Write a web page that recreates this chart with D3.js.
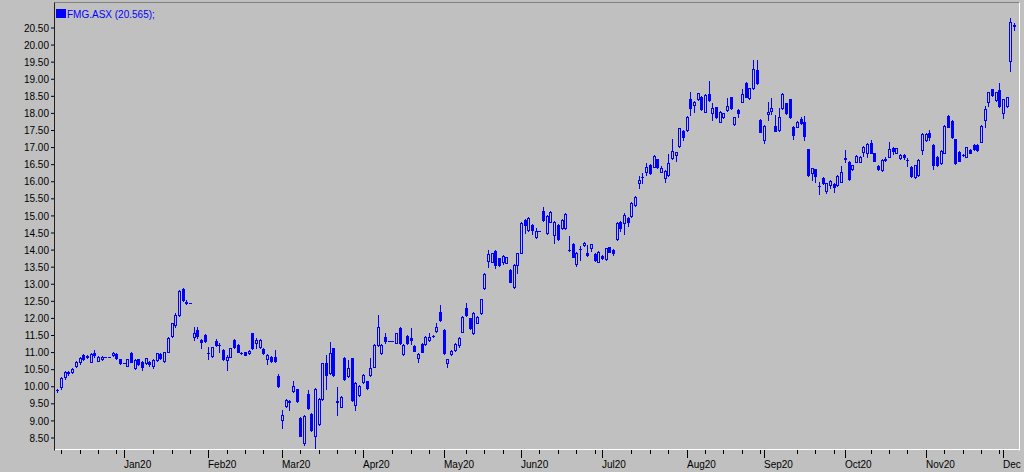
<!DOCTYPE html>
<html><head><meta charset="utf-8">
<script src="https://cdn.jsdelivr.net/npm/d3@7"></script>
<style>
html,body{margin:0;padding:0;background:#c0c0c0;overflow:hidden}
svg{display:block}
text{font-family:"Liberation Sans",Arial,sans-serif;font-size:10px}
</style></head><body>
<svg id="c" width="1024" height="472"></svg>
<script>
// ---- data ----
const dates = [
"2019-12-06","2019-12-09","2019-12-10","2019-12-11","2019-12-12","2019-12-13","2019-12-16","2019-12-17","2019-12-18","2019-12-19","2019-12-20","2019-12-23","2019-12-24","2019-12-25","2019-12-26","2019-12-27","2019-12-30","2019-12-31",
"2020-01-01","2020-01-02","2020-01-03","2020-01-06","2020-01-07","2020-01-08","2020-01-09","2020-01-10","2020-01-13","2020-01-14","2020-01-15","2020-01-16","2020-01-17","2020-01-20","2020-01-21","2020-01-22","2020-01-23","2020-01-24","2020-01-27","2020-01-28","2020-01-29","2020-01-30","2020-01-31",
"2020-02-03","2020-02-04","2020-02-05","2020-02-06","2020-02-07","2020-02-10","2020-02-11","2020-02-12","2020-02-13","2020-02-14","2020-02-17","2020-02-18","2020-02-19","2020-02-20","2020-02-21","2020-02-24","2020-02-25","2020-02-26","2020-02-27","2020-02-28",
"2020-03-02","2020-03-03","2020-03-04","2020-03-05","2020-03-06","2020-03-09","2020-03-10","2020-03-11","2020-03-12","2020-03-13","2020-03-16","2020-03-17","2020-03-18","2020-03-19","2020-03-20","2020-03-23","2020-03-24","2020-03-25","2020-03-26","2020-03-27","2020-03-30","2020-03-31",
"2020-04-01","2020-04-02","2020-04-03","2020-04-06","2020-04-07","2020-04-08","2020-04-09","2020-04-10","2020-04-13","2020-04-14","2020-04-15","2020-04-16","2020-04-17","2020-04-20","2020-04-21","2020-04-22","2020-04-23","2020-04-24","2020-04-27","2020-04-28","2020-04-29","2020-04-30",
"2020-05-01","2020-05-04","2020-05-05","2020-05-06","2020-05-07","2020-05-08","2020-05-11","2020-05-12","2020-05-13","2020-05-14","2020-05-15","2020-05-18","2020-05-19","2020-05-20","2020-05-21","2020-05-22","2020-05-25","2020-05-26","2020-05-27","2020-05-28","2020-05-29",
"2020-06-01","2020-06-02","2020-06-03","2020-06-04","2020-06-05","2020-06-08","2020-06-09","2020-06-10","2020-06-11","2020-06-12","2020-06-15","2020-06-16","2020-06-17","2020-06-18","2020-06-19","2020-06-22","2020-06-23","2020-06-24","2020-06-25","2020-06-26","2020-06-29","2020-06-30",
"2020-07-01","2020-07-02","2020-07-03","2020-07-06","2020-07-07","2020-07-08","2020-07-09","2020-07-10","2020-07-13","2020-07-14","2020-07-15","2020-07-16","2020-07-17","2020-07-20","2020-07-21","2020-07-22","2020-07-23","2020-07-24","2020-07-27","2020-07-28","2020-07-29","2020-07-30","2020-07-31",
"2020-08-03","2020-08-04","2020-08-05","2020-08-06","2020-08-07","2020-08-10","2020-08-11","2020-08-12","2020-08-13","2020-08-14","2020-08-17","2020-08-18","2020-08-19","2020-08-20","2020-08-21","2020-08-24","2020-08-25","2020-08-26","2020-08-27","2020-08-28","2020-08-31",
"2020-09-01","2020-09-02","2020-09-03","2020-09-04","2020-09-07","2020-09-08","2020-09-09","2020-09-10","2020-09-11","2020-09-14","2020-09-15","2020-09-16","2020-09-17","2020-09-18","2020-09-21","2020-09-22","2020-09-23","2020-09-24","2020-09-25","2020-09-28","2020-09-29","2020-09-30",
"2020-10-01","2020-10-02","2020-10-05","2020-10-06","2020-10-07","2020-10-08","2020-10-09","2020-10-12","2020-10-13","2020-10-14","2020-10-15","2020-10-16","2020-10-19","2020-10-20","2020-10-21","2020-10-22","2020-10-23","2020-10-26","2020-10-27","2020-10-28","2020-10-29","2020-10-30",
"2020-11-02","2020-11-03","2020-11-04","2020-11-05","2020-11-06","2020-11-09","2020-11-10","2020-11-11","2020-11-12","2020-11-13","2020-11-16","2020-11-17","2020-11-18","2020-11-19","2020-11-20","2020-11-23","2020-11-24","2020-11-25","2020-11-26","2020-11-27","2020-11-30",
"2020-12-01","2020-12-02","2020-12-03","2020-12-04"
];
const open = [
9.88,9.97,10.26,10.39,10.43,10.60,10.70,10.90,10.85,10.72,10.98,10.75,10.80,10.87,10.87,10.91,10.94,10.79,
10.67,10.60,10.96,10.54,10.79,10.72,10.67,10.72,10.60,10.77,10.94,10.75,11.01,11.46,11.79,12.09,12.85,12.46,12.45,11.45,11.65,11.35,11.50,
10.97,10.89,11.33,11.22,11.06,10.77,10.87,11.35,11.21,10.97,10.99,10.96,11.55,11.26,11.14,11.10,10.80,10.86,10.87,10.30,
9.02,9.42,9.56,9.87,9.91,9.08,8.33,9.78,9.20,8.53,8.90,9.62,10.67,10.38,11.11,9.56,9.40,10.82,10.30,10.82,9.45,9.74,
10.11,10.14,10.33,10.57,11.21,10.96,11.45,11.31,11.31,11.28,11.70,10.94,11.47,11.40,11.18,10.82,11.24,11.24,11.35,11.47,11.63,12.16,
11.65,10.67,10.93,11.06,11.22,11.60,12.28,11.99,11.55,11.86,12.13,12.87,13.67,13.65,13.97,13.74,13.65,13.62,13.40,12.91,13.55,
13.91,14.87,14.57,14.72,14.36,14.55,15.14,14.48,14.82,14.43,14.72,14.62,14.62,14.00,14.16,13.58,14.01,14.13,13.91,14.06,13.87,13.65,
13.81,13.71,14.07,13.99,14.30,14.82,14.77,14.92,14.98,15.31,15.96,16.11,16.28,16.48,16.43,16.64,16.28,16.09,16.18,16.67,16.77,17.03,17.48,
17.50,18.40,18.23,18.40,18.48,18.04,18.54,18.01,18.16,17.74,17.87,18.09,18.46,17.68,18.09,18.33,18.88,18.43,18.72,19.26,17.79,
17.21,17.97,18.07,17.62,17.50,18.13,18.28,18.40,17.60,17.60,17.81,17.72,16.93,16.23,16.35,15.87,16.09,15.72,15.89,15.92,15.89,15.99,
16.66,16.57,16.35,16.57,16.57,16.87,16.84,17.13,16.82,16.45,16.33,16.63,16.72,16.96,16.84,16.67,16.77,16.62,16.43,16.12,16.18,16.91,
17.21,17.40,17.06,16.72,16.52,16.84,17.91,17.77,17.23,16.87,16.77,16.72,16.91,17.06,17.06,17.16,17.79,18.33,18.69,18.37,18.67,
17.99,18.20,19.52,20.55
];
const high = [
9.93,10.27,10.45,10.45,10.52,10.75,10.87,10.95,10.90,10.96,11.06,10.89,10.88,10.87,10.87,11.00,10.96,10.80,
10.67,10.80,10.99,10.79,10.81,10.74,10.84,10.75,10.79,10.98,10.97,11.01,11.43,11.86,12.15,12.82,12.88,12.52,12.45,11.74,11.72,11.38,11.52,
11.16,11.16,11.37,11.26,11.08,10.90,11.13,11.37,11.23,10.99,11.01,11.06,11.57,11.41,11.37,11.12,10.93,10.88,11.06,10.37,
9.31,9.62,9.60,10.16,9.93,9.10,9.16,9.90,9.22,9.94,9.66,10.69,10.92,11.30,11.13,9.99,9.72,10.85,10.77,10.84,10.11,10.03,
10.35,10.16,10.82,11.23,12.09,11.23,11.55,11.31,11.31,11.57,11.72,11.23,11.49,11.70,11.20,10.96,11.26,11.47,11.55,11.50,11.85,12.37,
11.67,10.81,11.06,11.26,11.44,12.06,12.45,12.01,12.17,12.06,12.56,13.30,14.00,13.91,13.99,13.76,13.83,13.79,13.42,13.57,13.91,
14.81,14.90,14.95,14.74,14.62,14.55,15.25,15.00,15.13,14.84,14.74,14.89,15.06,14.39,14.18,13.93,14.11,14.22,14.13,14.17,13.89,13.96,
13.83,14.06,14.09,14.01,14.81,14.84,15.06,14.94,15.39,15.57,16.14,16.23,16.52,16.50,16.76,16.66,16.45,16.32,16.79,17.24,16.87,17.57,17.50,
17.91,18.62,18.35,18.59,18.50,18.54,18.93,18.30,18.18,18.06,18.01,18.45,18.48,17.89,18.11,18.70,18.90,18.74,19.55,19.55,17.81,
17.64,18.33,18.43,17.95,18.13,18.57,18.30,18.42,17.62,17.76,17.88,17.90,16.95,16.40,16.37,15.98,16.11,15.96,16.04,15.94,16.17,16.45,
16.91,16.59,16.49,16.76,16.74,17.03,17.11,17.22,16.84,16.47,16.64,16.71,17.16,17.00,16.98,16.79,16.79,16.67,16.45,16.49,16.65,17.40,
17.40,17.50,17.08,16.74,16.91,17.64,17.93,17.79,17.25,16.89,16.80,17.01,16.93,17.08,17.08,17.64,18.20,18.62,18.71,18.62,18.87,
18.42,18.48,20.77,20.63
];
const low = [
9.84,9.93,10.20,10.33,10.40,10.57,10.66,10.76,10.83,10.70,10.87,10.73,10.77,10.87,10.87,10.89,10.80,10.65,
10.67,10.58,10.70,10.50,10.62,10.48,10.64,10.60,10.52,10.74,10.79,10.72,10.99,11.44,11.72,12.05,12.50,12.40,12.45,11.35,11.40,11.11,11.30,
10.79,10.85,11.17,10.99,10.77,10.48,10.85,11.12,10.99,10.93,10.90,10.94,11.09,11.13,11.11,10.94,10.65,10.72,10.72,9.97,
8.77,9.40,9.30,9.84,9.54,8.53,8.29,9.33,8.70,8.13,8.86,9.60,9.91,10.36,10.31,9.16,9.38,10.18,10.27,9.58,9.30,9.72,
10.09,9.92,10.31,10.55,11.17,10.94,11.28,11.31,11.31,11.26,11.24,10.92,11.24,11.25,11.02,10.72,10.99,11.22,11.33,11.45,11.60,11.91,
10.94,10.57,10.91,11.04,11.16,11.58,12.07,11.68,11.53,11.84,12.11,12.85,13.48,13.63,13.45,13.53,13.58,13.60,13.04,12.89,13.30,
13.89,14.50,14.55,14.45,14.34,14.55,14.85,14.46,14.80,14.20,14.28,14.60,14.60,13.95,13.77,13.52,13.70,14.11,13.82,13.96,13.68,13.63,
13.72,13.69,13.92,13.84,14.28,14.55,14.45,14.70,14.96,15.29,15.80,15.94,16.18,16.21,16.41,16.39,16.26,15.98,16.16,16.65,16.60,17.01,17.20,
17.48,17.94,18.03,18.38,18.09,18.02,18.36,17.79,17.85,17.72,17.85,18.07,18.11,17.66,17.88,18.31,18.46,18.41,18.70,18.85,17.43,
17.12,17.79,17.97,17.46,17.48,18.11,17.97,17.85,17.25,17.58,17.68,17.20,16.16,16.05,15.97,15.63,15.92,15.67,15.79,15.70,15.87,15.97,
16.57,16.04,16.33,16.55,16.55,16.75,16.70,16.82,16.58,16.33,16.31,16.60,16.70,16.80,16.82,16.65,16.66,16.45,16.12,16.10,16.16,16.80,
17.19,17.20,16.35,16.46,16.50,16.82,17.58,17.27,16.50,16.58,16.74,16.70,16.82,16.91,16.89,17.14,17.60,18.20,18.50,18.35,18.18,
17.84,18.18,19.24,20.43
];
const close = [
9.90,10.23,10.42,10.41,10.50,10.72,10.82,10.79,10.88,10.94,10.91,10.87,10.87,10.87,10.87,10.98,10.82,10.67,
10.67,10.79,10.72,10.77,10.65,10.57,10.82,10.64,10.77,10.96,10.82,10.99,11.40,11.84,12.09,12.79,12.53,12.45,12.45,11.57,11.48,11.30,11.33,
10.96,11.14,11.21,11.21,10.79,10.87,11.11,11.14,11.01,10.96,10.91,11.04,11.11,11.34,11.35,10.96,10.91,10.74,10.75,10.00,
9.16,9.60,9.55,10.02,9.56,8.55,9.14,9.35,8.72,9.92,9.62,10.67,10.33,10.96,10.33,9.55,9.70,10.20,10.52,9.60,10.09,10.01,
10.33,9.94,10.53,11.21,11.74,11.21,11.31,11.31,11.31,11.55,11.26,11.21,11.26,11.35,11.04,10.94,11.01,11.45,11.45,11.48,11.73,11.93,
10.96,10.79,11.04,11.24,11.42,12.04,12.09,11.70,12.15,12.04,12.54,13.28,13.87,13.89,13.55,13.55,13.81,13.77,13.06,13.55,13.89,
14.79,14.72,14.92,14.57,14.55,14.55,14.87,14.98,15.11,14.82,14.30,14.87,15.04,13.99,13.79,13.91,14.02,14.20,13.84,14.15,13.70,13.94,
13.74,14.04,13.94,13.89,14.79,14.62,15.01,14.82,15.37,15.55,16.04,16.12,16.41,16.23,16.74,16.41,16.38,16.30,16.54,16.89,16.85,17.55,17.30,
17.89,18.13,18.33,18.57,18.11,18.52,18.38,18.13,17.87,18.04,17.99,18.20,18.13,17.87,17.99,18.55,18.48,18.72,19.30,18.87,17.45,
17.62,18.04,18.15,17.48,17.87,18.55,17.99,17.87,17.35,17.74,17.70,17.32,16.18,16.38,16.15,15.86,15.94,15.94,16.02,15.84,16.15,16.28,
16.67,16.06,16.47,16.74,16.72,17.01,17.09,16.84,16.60,16.35,16.62,16.64,16.93,16.90,16.96,16.77,16.72,16.61,16.14,16.47,16.62,17.38,
17.38,17.29,16.48,16.48,16.89,17.62,17.60,17.29,16.52,16.60,16.78,16.99,16.84,16.93,16.91,17.62,18.11,18.60,18.52,18.60,18.20,
18.40,18.46,20.65,20.565
];
const yTicks = [8.5,9,9.5,10,10.5,11,11.5,12,12.5,13,13.5,14,14.5,15,15.5,16,16.5,17,17.5,18,18.5,19,19.5,20,20.5];
const monthTicks = ["2020-01-01","2020-02-03","2020-03-02","2020-04-01","2020-05-01","2020-06-01","2020-07-01","2020-08-03","2020-09-01","2020-10-01","2020-11-02","2020-12-01"];
const monthLabels = ["Jan20","Feb20","Mar20","Apr20","May20","Jun20","Jul20","Aug20","Sep20","Oct20","Nov20","Dec20"];
const seriesName = "FMG.ASX";
const lastValue = "20.565";

// ---- layout ----
const BG = "#c0c0c0", BLUE = "#0000ff";
const PL = 54.5, PR = 1019.5, PT = 2.5, PB = 450.5;
const parse = d3.utcParse("%Y-%m-%d");
const base = parse("2020-01-01");
function slot(str){
  const d = parse(str); let n = 0;
  if (d >= base){ for (let t = base; t < d; t = d3.utcDay.offset(t,1)){ const w=t.getUTCDay(); if(w!==0&&w!==6) n++; } return n; }
  for (let t = d; t < base; t = d3.utcDay.offset(t,1)){ const w=t.getUTCDay(); if(w!==0&&w!==6) n++; } return -n;
}
const x = d3.scaleLinear().domain([-18.8, 243.6]).range([54.5, 1020]);
const y = d3.scaleLinear().domain([8.5, 20.5]).range([437.5, 27.5]);

const svg = d3.select("#c");
svg.append("rect").attr("width",1024).attr("height",472).attr("fill",BG);

const n = Math.min(dates.length, open.length, high.length, low.length, close.length);
if (n !== dates.length || n!==open.length || n!==high.length || n!==low.length || n!==close.length) console.error("length mismatch", dates.length, open.length, high.length, low.length, close.length);
const data = d3.range(n).map(i => ({d:dates[i], i:slot(dates[i]), o:open[i], h:high[i], l:low[i], c:close[i]}));

svg.append("clipPath").attr("id","clip").append("rect").attr("x",55).attr("y",3).attr("width",964).attr("height",447);
svg.append("clipPath").attr("id","clipx").append("rect").attr("x",0).attr("y",450).attr("width",1021).attr("height",22);
const g = svg.append("g").attr("clip-path","url(#clip)");

data.forEach(p => {
  const px = Math.round(x(p.i));
  const yh = Math.round(y(p.h)), yl = Math.round(y(p.l));
  const yo = Math.round(y(p.o)), yc = Math.round(y(p.c));
  g.append("line").attr("x1",px+0.5).attr("x2",px+0.5).attr("y1",yh).attr("y2",yl+1)
    .attr("stroke",BLUE).attr("stroke-width",1);
  const top = Math.min(yo,yc), bot = Math.max(yo,yc);
  if (bot - top < 1){
    g.append("line").attr("x1",px-1).attr("x2",px+2).attr("y1",top+0.5).attr("y2",top+0.5)
      .attr("stroke",BLUE).attr("stroke-width",1);
  } else if (p.c > p.o){
    g.append("rect").attr("x",px-0.5).attr("y",top+0.5).attr("width",2).attr("height",bot-top)
      .attr("fill",BG).attr("stroke",BLUE).attr("stroke-width",1);
  } else {
    g.append("rect").attr("x",px-1).attr("y",top).attr("width",3).attr("height",bot-top+1)
      .attr("fill",BLUE);
  }
});

// frame
svg.append("line").attr("x1",PL).attr("x2",PR).attr("y1",PT).attr("y2",PT).attr("stroke","#808080");
svg.append("line").attr("x1",PR).attr("x2",PR).attr("y1",PT).attr("y2",PB).attr("stroke","#ffffff");
svg.append("line").attr("x1",PL).attr("x2",PR).attr("y1",449.5).attr("y2",449.5).attr("stroke","#ffffff");
svg.append("line").attr("x1",PL).attr("x2",PL).attr("y1",PT).attr("y2",PB).attr("stroke","#202020");

// y axis
const yAxis = d3.axisLeft(y).tickValues(yTicks).tickSize(3).tickPadding(2).tickFormat(d3.format(".2f"));
const ga = svg.append("g").attr("transform","translate(54,0)").call(yAxis);
ga.select(".domain").remove();
ga.selectAll(".tick line").attr("stroke","#000");
ga.selectAll(".tick text").attr("fill","#000").attr("font-size",10).attr("font-family","'Liberation Sans',Arial,sans-serif").attr("dy","0.36em");

// x axis: month ticks + weekly minor ticks
const majors = monthTicks.map(slot);
const minors = [];
for (let t = parse("2019-12-02"); t <= parse("2020-12-04"); t = d3.utcDay.offset(t,7)){
  const s = slot(d3.utcFormat("%Y-%m-%d")(t));
  if (majors.some(m => s - m >= 0 && s - m <= 4)) continue;
  if (x(s) < 56) continue;
  minors.push(s);
}
const gx = svg.append("g").attr("clip-path","url(#clipx)");
gx.selectAll("line.minor").data(minors).join("line").attr("class","minor")
  .attr("x1",d=>Math.round(x(d))+0.5).attr("x2",d=>Math.round(x(d))+0.5).attr("y1",450).attr("y2",454).attr("stroke","#000");
gx.selectAll("line.major").data(majors).join("line").attr("class","major")
  .attr("x1",d=>Math.round(x(d))+0.5).attr("x2",d=>Math.round(x(d))+0.5).attr("y1",450).attr("y2",458).attr("stroke","#000");
gx.selectAll("text").data(majors).join("text")
  .attr("x",d=>Math.round(x(d))).attr("y",468).attr("fill","#000").text((d,i)=>monthLabels[i]);

// legend
svg.append("rect").attr("x",56).attr("y",9).attr("width",10).attr("height",9).attr("fill",BLUE);
svg.append("text").attr("x",67).attr("y",17.5).attr("fill",BLUE).text(`${seriesName} (${lastValue});`);
</script>
</body></html>
